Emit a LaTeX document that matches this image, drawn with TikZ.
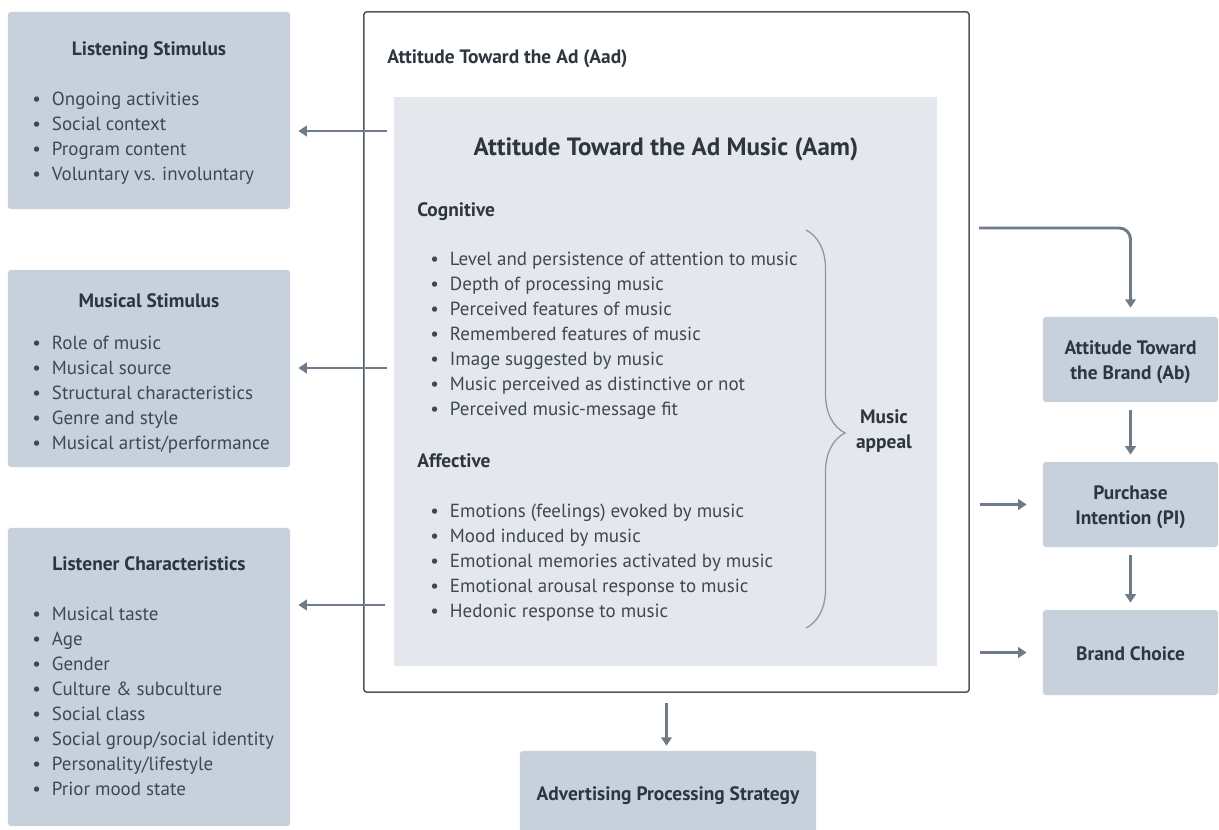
\documentclass[tikz,border=0pt]{standalone}
\usepackage{fontspec}
\setmainfont{PT Sans}
\usepackage{tikz}
\usetikzlibrary{arrows.meta,positioning,calc,decorations.pathreplacing}
\definecolor{boxfill}{RGB}{198,209,219}
\definecolor{innerfill}{RGB}{228,232,236}
\definecolor{slate}{RGB}{45,54,64}
\definecolor{itemgray}{RGB}{62,72,82}
\definecolor{arrowgray}{RGB}{111,123,135}
\definecolor{framegray}{RGB}{78,88,98}
\definecolor{bracegray}{RGB}{140,152,164}
\newcommand{\bul}{\makebox[14pt][l]{\textbullet}}

\begin{document}
\begin{tikzpicture}[x=0.025cm,y=-0.025cm,
    panel/.style={fill=boxfill,rounded corners=2pt,inner sep=0pt},
    bold/.style={inner sep=0pt,font=\fontsize{13.8}{17.8}\selectfont\bfseries,text=slate},
    head/.style={bold,text height=10.6pt,text depth=1.4pt},
    item/.style={anchor=west,inner sep=0pt,font=\fontsize{13.5}{17.8}\selectfont,text=itemgray,text height=10.6pt,text depth=1.4pt},
    conn/.style={draw=arrowgray,line width=2.1pt,-{Triangle[length=6pt,width=7.5pt]}}]
    \useasboundingbox (0,0) rectangle (1219,830);
    % left panels
    \node[panel,minimum width=7.05cm,minimum height=4.925cm] (ls) at (149,110.5){};
    \node[panel,minimum width=7.05cm,minimum height=4.925cm] (ms) at (149,368.5){};
    \node[panel,minimum width=7.05cm,minimum height=7.45cm] (lc) at (149,677){};
    \node[head] (lstitle) at (149,49){Listening Stimulus};
    \node[head] (mstitle) at (149,301){Musical Stimulus};
    \node[head] (lctitle) at (149,564){Listener Characteristics};
    \foreach \t [count=\i] in {Ongoing activities,Social context,Program content,Voluntary vs. involuntary}
      \node[item] (ls\i) at (32,{74+25*\i}){\bul\t};
    \foreach \t [count=\i] in {Role of music,Musical source,Structural characteristics,Genre and style,Musical artist/performance}
      \node[item] (ms\i) at (32,{318+25*\i}){\bul\t};
    \foreach \t [count=\i] in {Musical taste,Age,Gender,Culture \& subculture,Social class,Social group/social identity,Personality/lifestyle,Prior mood state}
      \node[item] (lc\i) at (32,{589+25*\i}){\bul\t};
    % central frame
    \node[draw=framegray,line width=1.1pt,fill=white,rounded corners=2pt,minimum width=15.125cm,minimum height=17cm] (aad) at (666.5,352){};
    \node[fill=innerfill,inner sep=0pt,minimum width=13.575cm,minimum height=14.225cm] (aam) at (665.5,381.5){};
    \node[head,anchor=west] (aadtitle) at (387,57){Attitude Toward the Ad (Aad)};
    \node[head,font=\fontsize{17.8}{20}\selectfont\bfseries,text height=13pt,text depth=2pt] (aamtitle) at (666,148){Attitude Toward the Ad Music (Aam)};
    \node[head,anchor=west] (cog) at (417,210){Cognitive};
    \node[head,anchor=west] (aff) at (417,461){Affective};
    \foreach \t [count=\i] in {Level and persistence of attention to music,Depth of processing music,Perceived features of music,Remembered features of music,Image suggested by music,Music perceived as distinctive or not,Perceived music-message fit}
      \node[item] (cog\i) at (430,{234+25*\i}){\bul\t};
    \foreach \t [count=\i] in {Emotions (feelings) evoked by music,Mood induced by music,Emotional memories activated by music,Emotional arousal response to music,Hedonic response to music}
      \node[item] (aff\i) at (430,{486+25*\i}){\bul\t};
    \draw[bracegray,line width=0.9pt,decorate,decoration={brace,amplitude=0.975cm,aspect=0.51}] (806,230)--(806,628);
    \node[bold,align=center] (appeal) at (884,431){Music\\appeal};
    % right column
    \node[panel,minimum width=4.375cm,minimum height=2.125cm] (ab) at (1130.5,359.5){};
    \node[panel,minimum width=4.375cm,minimum height=2.125cm] (pi) at (1130.5,504.5){};
    \node[panel,head,minimum width=4.375cm,minimum height=2.125cm,text height=12pt,text depth=0pt] (bc) at (1130.5,652.5){Brand Choice};
    \node[bold,align=center] (abtext) at ([yshift=-2pt]ab.center){Attitude Toward\\the Brand (Ab)};
    \node[bold,align=center] (pitext) at ([yshift=-2pt]pi.center){Purchase\\Intention (PI)};
    \node[panel,head,minimum width=7.4cm,minimum height=2.15cm] (aps) at (668,794){Advertising Processing Strategy};
    % connectors
    \coordinate (lsin) at (387,131);
    \coordinate (msin) at (387,368);
    \coordinate (lcin) at (385,605);
    \coordinate (abin) at (979,228);
    \draw[conn,shorten >=5.7pt] (lsin)--(lsin -| ls.east);
    \draw[conn,shorten >=5.7pt] (msin)--(msin -| ms.east);
    \draw[conn,shorten >=5.7pt] (lcin)--(lcin -| lc.east);
    \draw[conn,rounded corners=8pt,shorten >=6.4pt] (abin)-|(ab.north);
    \draw[conn,shorten <=7pt,shorten >=11.4pt] (aad.east |- pi)--(pi.west);
    \draw[conn,shorten <=7pt,shorten >=11.4pt] (aad.east |- bc)--(bc.west);
    \draw[conn,shorten <=5.7pt,shorten >=5pt] (ab)--(pi);
    \draw[conn,shorten <=5.7pt,shorten >=5pt] (pi)--(bc);
    \draw[conn,shorten <=7pt,shorten >=3.5pt] (aad.south)--(aad.south |- aps.north);
  \end{tikzpicture}
\end{document}
